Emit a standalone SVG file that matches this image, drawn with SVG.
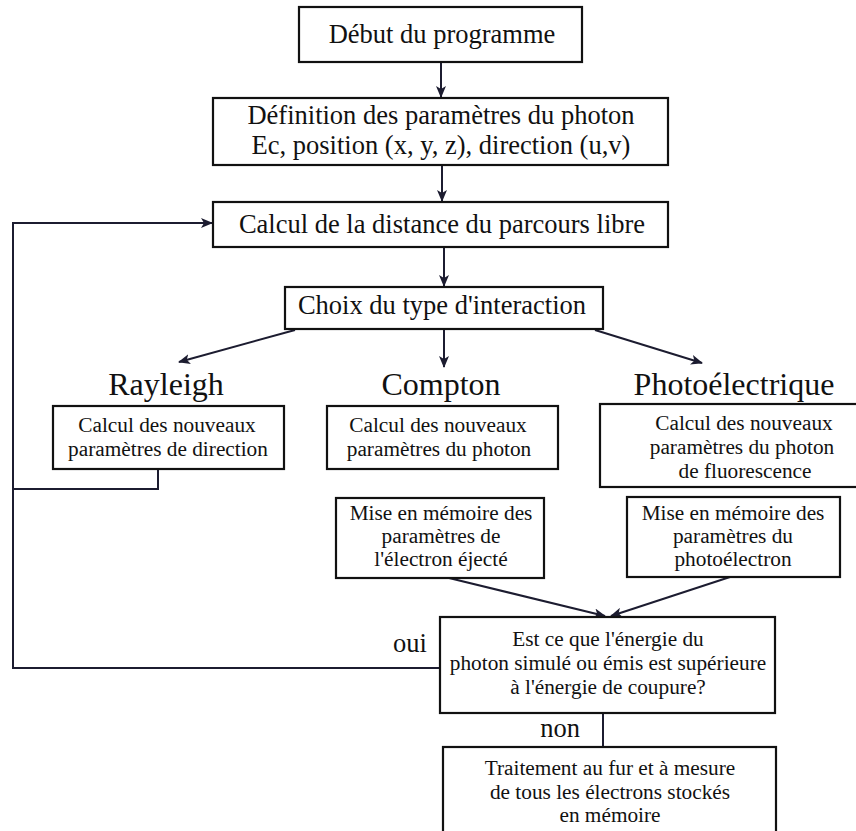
<svg xmlns="http://www.w3.org/2000/svg" width="856" height="831" viewBox="0 0 856 831">
<defs>
<style>
.box{fill:#fff;stroke:#111;stroke-width:2.2}
text{font-family:'Liberation Serif','DejaVu Serif',serif;fill:#111;text-anchor:middle}
.t26{font-size:26.5px}
.t21{font-size:21.3px}
.t32{font-size:32px}
.c{fill:none;stroke:#1c1c30;stroke-width:2}
</style>
<marker id="ah" viewBox="0 0 12 10" refX="11" refY="5" markerWidth="12" markerHeight="10" markerUnits="userSpaceOnUse" orient="auto">
<path d="M0,0 L12,5 L0,10 L3,5 z" fill="#1c1c30"/>
</marker>
</defs>
<rect width="856" height="831" fill="#fff"/>

<g id="connectors">
<line class="c" x1="441" y1="62" x2="441" y2="97" marker-end="url(#ah)"/>
<line class="c" x1="442" y1="165" x2="442" y2="201" marker-end="url(#ah)"/>
<line class="c" x1="444" y1="247" x2="444" y2="286" marker-end="url(#ah)"/>
<line class="c" x1="295" y1="330" x2="179" y2="362" marker-end="url(#ah)"/>
<line class="c" x1="444" y1="330" x2="444" y2="367" marker-end="url(#ah)"/>
<line class="c" x1="595" y1="330" x2="702" y2="363" marker-end="url(#ah)"/>
<polyline class="c" points="158,469 158,489 13,489"/>
<polyline class="c" points="440,668 13,668 13,223 212,223" marker-end="url(#ah)"/>
<line class="c" x1="449" y1="578" x2="605" y2="616" marker-end="url(#ah)"/>
<line class="c" x1="730" y1="577" x2="611" y2="616" marker-end="url(#ah)"/>
<line class="c" x1="603" y1="713" x2="603" y2="747"/>
</g>

<g id="debut">
<rect class="box" x="299" y="7" width="283" height="55"/>
<text class="t26" x="442" y="43">Début du programme</text>
</g>

<g id="definition">
<rect class="box" x="213" y="98" width="455" height="67"/>
<text class="t26" x="441" y="124">Définition des paramètres du photon</text>
<text class="t26" x="441" y="154">Ec, position (x, y, z), direction (u,v)</text>
</g>

<g id="distance">
<rect class="box" x="213" y="202" width="455" height="45"/>
<text class="t26" x="442" y="233">Calcul de la distance du parcours libre</text>
</g>

<g id="choix">
<rect class="box" x="285" y="287" width="318" height="42"/>
<text class="t26" x="442" y="314">Choix du type d'interaction</text>
</g>

<g id="label-rayleigh"><text class="t32" x="166" y="395">Rayleigh</text></g>
<g id="label-compton"><text class="t32" x="441" y="395">Compton</text></g>
<g id="label-photo"><text class="t32" x="734" y="395">Photoélectrique</text></g>

<g id="rayleigh">
<rect class="box" x="53" y="406" width="231" height="63"/>
<text class="t21" x="167" y="432">Calcul des nouveaux</text>
<text class="t21" x="168" y="456">paramètres de direction</text>
</g>

<g id="compton">
<rect class="box" x="327" y="406" width="231" height="63"/>
<text class="t21" x="438" y="432">Calcul des nouveaux</text>
<text class="t21" x="439" y="456">paramètres du photon</text>
</g>

<g id="photo">
<rect class="box" x="600" y="404" width="263" height="83"/>
<text class="t21" x="744" y="430">Calcul des nouveaux</text>
<text class="t21" x="742" y="454">paramètres du photon</text>
<text class="t21" x="745" y="478">de fluorescence</text>
</g>

<g id="memoire-compton">
<rect class="box" x="336" y="498" width="208" height="80"/>
<text class="t21" x="441" y="520">Mise en mémoire des</text>
<text class="t21" x="441" y="543">paramètres de</text>
<text class="t21" x="441" y="566">l'électron éjecté</text>
</g>

<g id="memoire-photo">
<rect class="box" x="627" y="497" width="213" height="80"/>
<text class="t21" x="733" y="520">Mise en mémoire des</text>
<text class="t21" x="733" y="543">paramètres du</text>
<text class="t21" x="733" y="566">photoélectron</text>
</g>

<g id="decision">
<rect class="box" x="440" y="617" width="335" height="96"/>
<text class="t21" x="608" y="646">Est ce que l'énergie du</text>
<text class="t21" x="608" y="670">photon simulé ou émis est supérieure</text>
<text class="t21" x="608" y="694">à l'énergie de coupure?</text>
</g>

<g id="label-oui"><text class="t26" x="410" y="652">oui</text></g>
<g id="label-non"><text class="t26" x="560" y="737">non</text></g>

<g id="traitement">
<rect class="box" x="443" y="747" width="333" height="95"/>
<text class="t21" x="610" y="775">Traitement au fur et à mesure</text>
<text class="t21" x="610" y="799">de tous les électrons stockés</text>
<text class="t21" x="610" y="822">en mémoire</text>
</g>
</svg>
